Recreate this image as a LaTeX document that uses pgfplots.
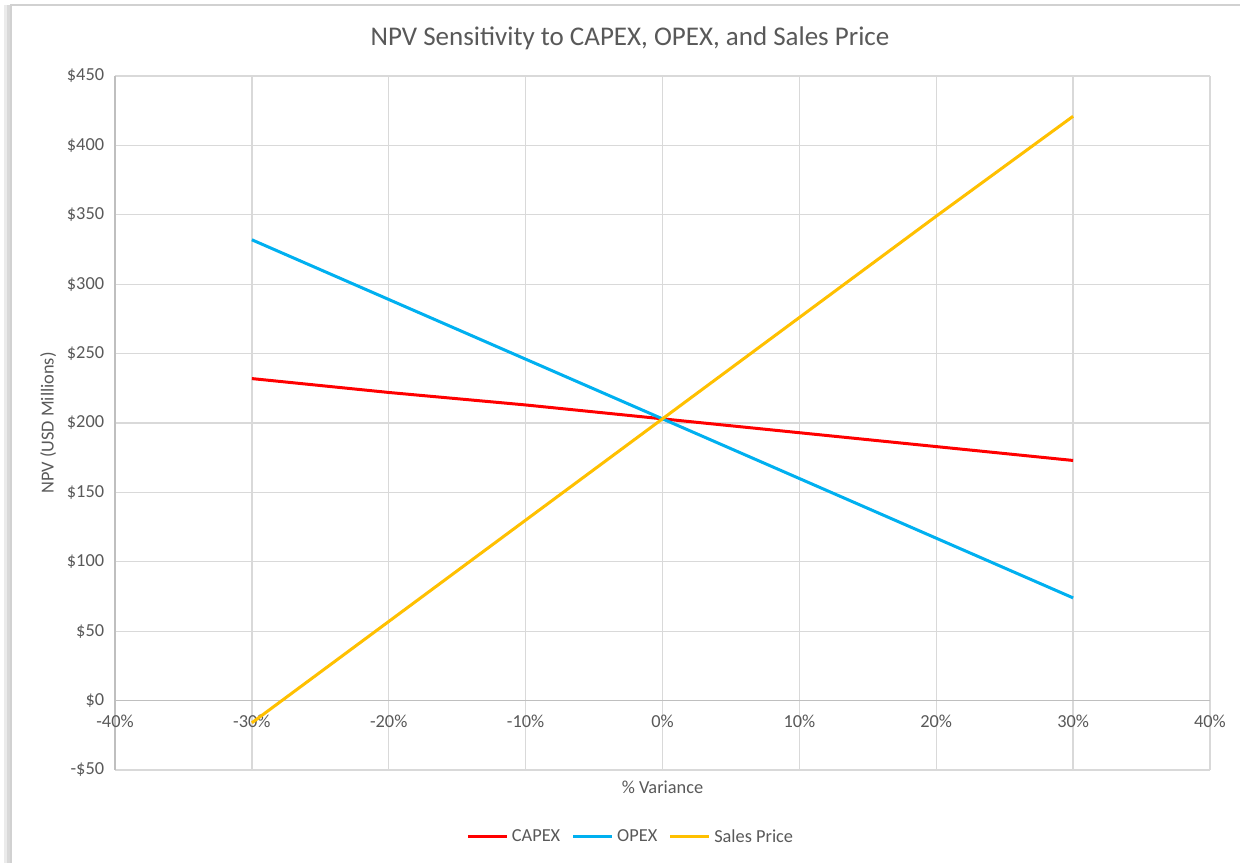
\documentclass[border=0pt]{standalone}
\usepackage{pgfplots}
\pgfplotsset{compat=1.18}
\usepackage{fontspec}
\setmainfont{Carlito}
\definecolor{txt}{HTML}{595959}
\definecolor{grd}{HTML}{D9D9D9}
\definecolor{axl}{HTML}{BFBFBF}
\definecolor{cred}{HTML}{FF0000}
\definecolor{cblue}{HTML}{00B0F0}
\definecolor{cyel}{HTML}{FFC000}
\begin{document}
\begin{tikzpicture}[x=0.6pt,y=0.6pt]
\useasboundingbox (0,0) rectangle (1240,863);
% frame with shadow
\fill[black!8] (4,0) rectangle (11,858);
\fill[black!15] (7,0) rectangle (11,858);
\fill[white] (11,0) rectangle (1240,858);
\draw[black!18,line width=1.2pt] (11,0) -- (11,858) -- (1240,858);
\node[font=\fontsize{16.2}{19}\selectfont,text=txt] at (630,825) {NPV Sensitivity to CAPEX, OPEX, and Sales Price};
\begin{axis}[
  at={(69pt,55.8pt)}, anchor=south west,
  scale only axis, width=657pt, height=416.4pt,
  xmin=-40, xmax=40, ymin=-50, ymax=450,
  axis x line=middle, axis y line=left,
  axis line style={-, axl, line width=0.8pt},
  hide obscured x ticks=false, hide obscured y ticks=false,
  xtick={-40,-30,...,40},
  xticklabels={-40\%,-30\%,-20\%,-10\%,0\%,10\%,20\%,30\%,40\%},
  ytick={-50,0,...,450},
  yticklabels={-\$50,\$0,\$50,\$100,\$150,\$200,\$250,\$300,\$350,\$400,\$450},
  major tick length=0pt,
  grid=major, major grid style={grd, line width=0.8pt},
  tick label style={font=\fontsize{11}{13}\selectfont, text=txt},
  xticklabel style={yshift=-5pt},
  yticklabel style={xshift=-3pt},
  xlabel={\% Variance}, ylabel={NPV (USD Millions)},
  label style={font=\fontsize{11}{13}\selectfont, text=txt},
  xlabel style={at={(axis description cs:0.5,0)}, anchor=north, yshift=-3pt},
  ylabel style={at={(axis description cs:-0.061,0.5)}, anchor=center},
  legend style={at={(0.4717,-0.0965)}, anchor=center, draw=none, fill=none,
    legend columns=3, font=\fontsize{11}{13}\selectfont, text=txt,
    /tikz/every even column/.append style={column sep=5pt}},
  legend image code/.code={\draw[#1] (0pt,0pt) -- (23.4pt,0pt);},
  clip=false,
]
\addplot[cred, line width=1.8pt] coordinates {(-30,232) (-20,222) (-10,213) (0,203) (10,193) (20,183) (30,173)};
\addlegendentry{CAPEX}
\addplot[cblue, line width=1.8pt] coordinates {(-30,332) (-20,289) (-10,246) (0,203) (10,160) (20,117) (30,74)};
\addlegendentry{OPEX}
\addplot[cyel, line width=1.8pt] coordinates {(-30,-16) (-20,57) (-10,130) (0,203) (10,276) (20,349) (30,421)};
\addlegendentry{Sales Price}
\end{axis}
\end{tikzpicture}
\end{document}
